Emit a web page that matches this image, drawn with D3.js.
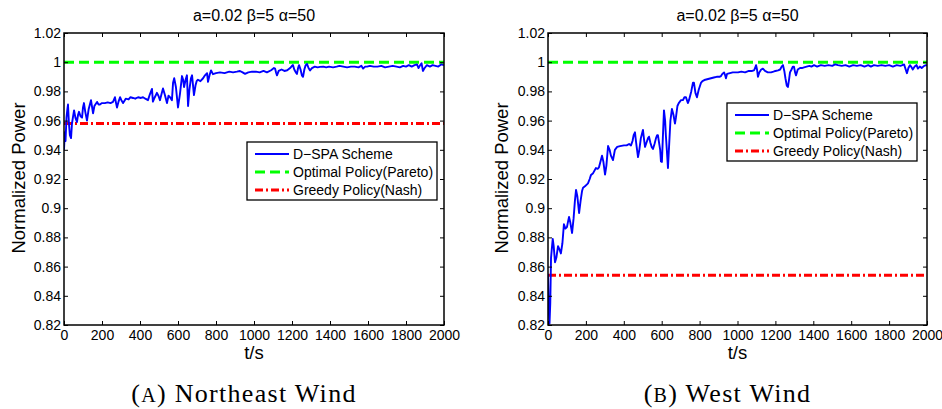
<!DOCTYPE html>
<html>
<head>
<meta charset="utf-8">
<script src="https://cdn.jsdelivr.net/npm/d3@7"></script>
<style>
  body { margin: 0; background: #fff; }
  svg { display: block; font-family: "Liberation Sans", Arial, sans-serif; }
</style>
</head>
<body>
<svg id="chart" width="942" height="409"></svg>
<script>
// ---- data ----
const titleText = 'a=0.02 \u03b2=5 \u03b1=50';
const xLabel = 't/s';
const yLabel = 'Normalized Power';
const xTicks = [0, 200, 400, 600, 800, 1000, 1200, 1400, 1600, 1800, 2000];
const yTicks = [0.82, 0.84, 0.86, 0.88, 0.9, 0.92, 0.94, 0.96, 0.98, 1, 1.02];
const legendLabels = ['D\u2212SPA Scheme', 'Optimal Policy(Pareto)', 'Greedy Policy(Nash)'];

const paretoLevel = 1.0;
const nashNE = 0.958;
const nashW = 0.854;

// (A) Northeast wind: D-SPA power
const tNE = [0,4,8,13,18,21,26,31,37,42,48,53,60,68,74,79,87,95,100,105,112,121,130,142,148,153,160,174,182,189,
  200,215,230,245,258,268,274,279,287,295,302,311,325,340,350,363,375,390,405,416,428,442,452,463,468,478,489,497,505,513,
  521,530,542,550,558,568,574,580,589,600,610,621,627,632,640,647,653,660,668,674,684,692,698,705,718,732,742,753,758,766,
  774,784,800,821,845,870,890,910,926,940,953,970,990,1010,1030,1050,1068,1090,1105,1111,1116,1121,1130,1145,1160,1175,1190,1200,1205,1212,
  1220,1226,1232,1237,1245,1252,1258,1265,1272,1279,1287,1295,1305,1320,1335,1347,1365,1380,1395,1416,1435,1450,1470,1490,1510,1530,1550,1565,1574,1585,
  1595,1610,1630,1650,1670,1690,1710,1730,1750,1768,1785,1800,1815,1830,1845,1858,1866,1875,1882,1889,1898,1910,1926,1940,1955,1970,1985,2000];
const pNE = [0.940,0.952,0.946,0.962,0.968,0.971,0.958,0.950,0.948,0.958,0.963,0.967,0.962,0.959,0.964,0.966,0.963,0.962,0.969,0.972,0.966,0.960,0.968,0.974,0.969,0.965,0.970,0.9728,0.971,0.971,
  0.972,0.972,0.9725,0.972,0.9728,0.976,0.972,0.969,0.973,0.976,0.974,0.972,0.975,0.9745,0.976,0.9755,0.975,0.976,0.9755,0.976,0.975,0.974,0.978,0.9817,0.973,0.976,0.979,0.977,0.974,0.978,
  0.982,0.978,0.972,0.977,0.976,0.974,0.986,0.989,0.983,0.969,0.978,0.9905,0.988,0.983,0.988,0.991,0.970,0.981,0.989,0.991,0.9775,0.984,0.987,0.988,0.987,0.989,0.991,0.9925,0.9865,0.991,
  0.9944,0.9918,0.9925,0.993,0.9925,0.9935,0.993,0.9935,0.994,0.993,0.992,0.993,0.9935,0.9935,0.993,0.994,0.993,0.9945,0.996,0.9956,0.993,0.991,0.994,0.995,0.994,0.9945,0.996,0.9975,0.998,0.995,
  0.993,0.992,0.996,0.998,0.995,0.991,0.990,0.995,0.998,0.9988,0.996,0.9944,0.996,0.997,0.9965,0.9968,0.997,0.9965,0.997,0.9965,0.997,0.9975,0.997,0.9965,0.997,0.997,0.9965,0.9975,0.9956,0.997,
  0.997,0.9975,0.997,0.997,0.9975,0.9965,0.997,0.9975,0.997,0.9965,0.9975,0.997,0.998,0.997,0.998,0.9985,0.996,0.998,0.9992,0.994,0.996,0.998,0.997,0.998,0.9975,0.997,0.9985,0.998];

// (B) West wind: D-SPA power
const tW = [0,4,8,12,16,20,25,30,37,44,53,60,68,76,84,92,100,106,111,118,127,135,142,148,155,164,172,180,185,195,
  203,211,220,227,238,253,262,269,277,285,292,301,308,317,325,332,343,353,365,380,401,415,428,438,446,452,459,465,470,475,
  482,490,496,501,507,512,520,528,533,540,547,554,562,570,576,580,587,592,596,601,606,612,618,622,627,633,640,646,654,662,
  670,675,683,690,702,712,720,728,738,744,756,765,770,778,786,795,807,815,830,845,860,875,890,905,913,920,929,935,939,945,
  960,975,990,1003,1020,1040,1060,1075,1087,1093,1098,1103,1108,1115,1125,1134,1145,1160,1177,1190,1200,1214,1225,1233,1240,1247,1253,1260,1266,1272,
  1277,1285,1292,1298,1304,1309,1318,1330,1340,1351,1365,1380,1390,1404,1420,1440,1460,1480,1500,1515,1530,1550,1570,1590,1610,1630,1650,1670,1690,1704,
  1720,1740,1760,1780,1800,1820,1840,1860,1870,1879,1885,1894,1902,1910,1916,1925,1935,1945,1952,1962,1972,1985,1995,2000];
const pW = [0.855,0.830,0.821,0.835,0.866,0.872,0.879,0.874,0.863,0.866,0.874,0.872,0.869,0.876,0.889,0.886,0.887,0.891,0.894,0.890,0.883,0.893,0.905,0.9125,0.908,0.8967,0.905,0.912,0.914,0.915,
  0.916,0.917,0.920,0.9228,0.924,0.9275,0.927,0.928,0.932,0.936,0.932,0.923,0.929,0.9426,0.940,0.936,0.933,0.940,0.942,0.9425,0.943,0.943,0.944,0.943,0.946,0.950,0.952,0.945,0.940,0.935,
  0.940,0.948,0.951,0.9536,0.947,0.942,0.945,0.948,0.949,0.945,0.942,0.9406,0.944,0.948,0.950,0.950,0.944,0.940,0.932,0.9317,0.948,0.967,0.960,0.950,0.940,0.9275,0.945,0.960,0.968,0.964,
  0.958,0.962,0.970,0.972,0.974,0.974,0.976,0.976,0.972,0.974,0.980,0.986,0.986,0.979,0.976,0.981,0.9858,0.987,0.988,0.9885,0.989,0.9895,0.990,0.990,0.9905,0.992,0.993,0.991,0.989,0.992,
  0.9925,0.993,0.993,0.993,0.9935,0.993,0.994,0.994,0.9944,0.996,0.998,0.995,0.990,0.993,0.995,0.9956,0.994,0.993,0.993,0.9935,0.994,0.9944,0.995,0.997,0.998,0.994,0.989,0.984,0.983,0.988,
  0.993,0.995,0.997,0.997,0.993,0.991,0.995,0.996,0.996,0.9965,0.997,0.9975,0.997,0.998,0.997,0.998,0.9975,0.998,0.9975,0.9985,0.998,0.9975,0.998,0.997,0.998,0.9975,0.998,0.997,0.998,0.997,
  0.998,0.9975,0.998,0.9975,0.998,0.997,0.998,0.9975,0.998,0.9985,0.996,0.9925,0.996,0.998,0.997,0.995,0.997,0.998,0.9956,0.997,0.996,0.9975,0.998,0.9975];

const panels = [
  {t: tNE, p: pNE, nash: nashNE, left: 64, right: 444, legend: {x: 247, y: 142}, caption: 'Northeast Wind', tag: 'A', yLabelX: 25},
  {t: tW, p: pW, nash: nashW, left: 548, right: 927, legend: {x: 727, y: 103}, caption: 'West Wind', tag: 'B', yLabelX: 508}
];

const plotTop = 33, plotBottom = 325;
const svg = d3.select('#chart');
svg.append('rect').attr('width', 942).attr('height', 409).attr('fill', '#fff');

panels.forEach((pn, i) => {
  const x = d3.scaleLinear().domain([0, 2000]).range([pn.left, pn.right]);
  const y = d3.scaleLinear().domain([0.82, 1.02]).range([plotBottom, plotTop]);
  const g = svg.append('g');
  const cx = (pn.left + pn.right) / 2;

  // clip to plot box
  g.append('clipPath').attr('id', 'clip' + i)
    .append('rect')
    .attr('x', pn.left).attr('y', plotTop)
    .attr('width', pn.right - pn.left).attr('height', plotBottom - plotTop);

  const lines = g.append('g').attr('clip-path', 'url(#clip' + i + ')');

  // pareto (green dashed)
  lines.append('line')
    .attr('x1', x(0)).attr('x2', x(2000))
    .attr('y1', y(paretoLevel)).attr('y2', y(paretoLevel))
    .attr('stroke', '#00ff00').attr('stroke-width', 3)
    .attr('stroke-dasharray', '10,5');

  // nash (red dash-dot)
  lines.append('line')
    .attr('x1', x(0)).attr('x2', x(2000))
    .attr('y1', y(pn.nash)).attr('y2', y(pn.nash))
    .attr('stroke', '#ff0000').attr('stroke-width', 3)
    .attr('stroke-dasharray', '8,3,2,3');

  // D-SPA scheme
  const pts = pn.t.map((t, k) => [t, pn.p[k]]);
  const ln = d3.line().x(d => x(d[0])).y(d => y(d[1]));
  lines.append('path')
    .attr('d', ln(pts))
    .attr('fill', 'none')
    .attr('stroke', '#0000ff')
    .attr('stroke-width', 1.9)
    .attr('stroke-linejoin', 'round');

  // axes, MATLAB-style inward ticks on all sides
  const fmtY = v => String(+v.toFixed(2));
  const axB = g.append('g').attr('transform', 'translate(0,' + plotBottom + ')')
    .call(d3.axisBottom(x).tickValues(xTicks).tickSizeInner(-4).tickSizeOuter(0).tickPadding(5).tickFormat(d3.format('d')));
  const axL = g.append('g').attr('transform', 'translate(' + pn.left + ',0)')
    .call(d3.axisLeft(y).tickValues(yTicks).tickSizeInner(-4).tickSizeOuter(0).tickPadding(3).tickFormat(fmtY));
  const axT = g.append('g').attr('transform', 'translate(0,' + plotTop + ')')
    .call(d3.axisTop(x).tickValues(xTicks).tickSizeInner(-4).tickSizeOuter(0).tickFormat(''));
  const axR = g.append('g').attr('transform', 'translate(' + pn.right + ',0)')
    .call(d3.axisRight(y).tickValues(yTicks).tickSizeInner(-4).tickSizeOuter(0).tickFormat(''));
  [axB, axL, axT, axR].forEach(a => {
    a.select('.domain').remove();
    a.selectAll('line').attr('stroke', '#000').attr('stroke-width', 1);
    a.selectAll('text').attr('fill', '#000').style('font-size', '14px').style('font-family', '"Liberation Sans", Arial, sans-serif');
  });

  g.append('rect')
    .attr('x', pn.left).attr('y', plotTop)
    .attr('width', pn.right - pn.left).attr('height', plotBottom - plotTop)
    .attr('fill', 'none').attr('stroke', '#000').attr('stroke-width', 1.5);

  // title and labels
  g.append('text').attr('x', cx).attr('y', 21)
    .attr('text-anchor', 'middle').style('font-size', '16px').text(titleText);
  g.append('text').attr('x', cx).attr('y', 359)
    .attr('text-anchor', 'middle').style('font-size', '18.5px').text(xLabel);
  g.append('text')
    .attr('transform', 'translate(' + pn.yLabelX + ',' + 178 + ') rotate(-90)')
    .attr('text-anchor', 'middle').style('font-size', '18.5px').text(yLabel);

  // legend
  const lg = g.append('g').attr('transform', 'translate(' + pn.legend.x + ',' + pn.legend.y + ')');
  lg.append('rect').attr('width', 190).attr('height', 58)
    .attr('fill', '#fff').attr('stroke', '#000').attr('stroke-width', 1.3);
  const styles = [
    {c: '#0000ff', w: 1.9, dash: null},
    {c: '#00ff00', w: 3, dash: '10,5'},
    {c: '#ff0000', w: 3, dash: '8,3,2,3'}
  ];
  legendLabels.forEach((lab, k) => {
    const yy = 12 + k * 18;
    lg.append('line').attr('x1', 8).attr('x2', 42).attr('y1', yy).attr('y2', yy)
      .attr('stroke', styles[k].c).attr('stroke-width', styles[k].w)
      .attr('stroke-dasharray', styles[k].dash);
    lg.append('text').attr('x', 46).attr('y', yy + 5)
      .style('font-size', '14px').text(lab);
  });

  // sub-caption
  const cap = svg.append('text').attr('x', cx - 10).attr('y', 402)
    .attr('text-anchor', 'middle')
    .style('font-family', '"Liberation Serif", "Times New Roman", serif')
    .style('font-size', '26px').style('letter-spacing', '1.3px');
  cap.append('tspan').text('(');
  cap.append('tspan').style('font-size', '20px').text(pn.tag);
  cap.append('tspan').text(') ' + pn.caption);
});
</script>
</body>
</html>
